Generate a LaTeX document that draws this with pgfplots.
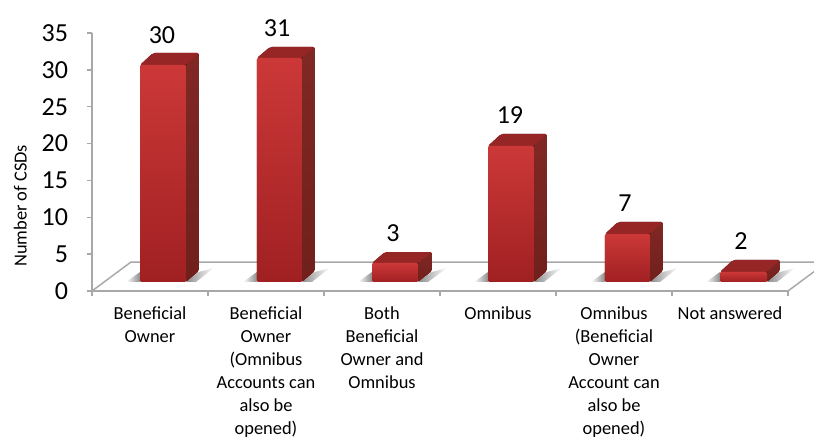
\documentclass[border=0pt]{standalone}
\usepackage{fontspec}
\setmainfont{Carlito}
\usepackage{pgfplots}
\usepackage{pgfplotstable}
\pgfplotsset{compat=1.18}

\definecolor{axisgray}{RGB}{168,168,168}
\definecolor{fronttop}{RGB}{204,56,56}
\definecolor{frontbot}{RGB}{160,32,34}
\definecolor{sidetop}{RGB}{128,40,36}
\definecolor{sidebot}{RGB}{112,32,28}
\definecolor{topface}{RGB}{150,38,38}
\definecolor{shadowgray}{RGB}{140,140,140}

% value labels: x, y of the label, value shown
\pgfplotstableread{
x     y      v
0.603 34.73  30
1.595 35.68  31
2.595 7.87   3
3.603 23.88  19
4.595 11.94  7
5.595 6.78   2
}\labeltable

% #1 left, #2 right, #3 back x; #4 value height of the front top, #5 of the back top
\newcommand{\threedbar}[5]{
  \addplot[draw=none, fill=sidebot, rounded corners=1.5pt]
    coordinates {(#1,1.221) (#2,1.221) (#3,2.713) (#3,#5) (#1+0.112,#5) (#1,#4)} -- cycle;
  \addplot[draw=none, shade, top color=sidetop, bottom color=sidebot, rounded corners=1.5pt]
    coordinates {(#2,1.221) (#3,2.713) (#3,#5) (#2,#4)} -- cycle;
  \addplot[draw=none, fill=topface, rounded corners=1.5pt]
    coordinates {(#1,#4) (#2,#4) (#3,#5) (#1+0.112,#5)} -- cycle;
  \addplot[draw=none, shade, top color=fronttop, bottom color=frontbot, rounded corners=1pt]
    coordinates {(#1,1.221) (#2,1.221) (#2,#4) (#1,#4)} -- cycle;
}
% #1 left tip, #2 bar left, #3 bar right, #4 bar back x, #5 right tip, #6 right tip at the front
\newcommand{\barshadow}[6]{
  \addplot[draw=none, shade, left color=white, right color=shadowgray]
    coordinates {(#1,1.221) (#2,2.58) (#2,1.221)} -- cycle;
  \addplot[draw=none, shade, left color=shadowgray, right color=white]
    coordinates {(#3,1.221) (#4,2.58) (#5,3.12) (#6,1.221)} -- cycle;
}

\begin{document}
\begin{tikzpicture}[x=0.75pt,y=0.75pt]
\path[clip, use as bounding box] (0,0) rectangle (814,438);
\begin{axis}[
    at={(69pt,110.25pt)},
    anchor=south west,
    scale only axis,
    width=522pt,
    height=193.5pt,
    xmin=0, xmax=6,
    ymin=0, ymax=35,
    clip=false,
    axis y line=left,
    axis x line=bottom,
    axis line style={-, draw=axisgray, line width=1.1pt},
    tick align=outside,
    major tick length=3.75pt,
    minor tick length=3.75pt,
    ytick={0,5,...,35},
    ytick style={draw=axisgray, line width=1pt},
    xtick={0.5,1.5,2.5,3.5,4.5,5.5},
    xtick style={draw=none},
    minor xtick={0,1,2,3,4,5,6},
    minor x tick style={draw=axisgray, line width=1pt},
    xticklabels={
      {Beneficial\\Owner},
      {Beneficial\\Owner\\(Omnibus\\Accounts can\\also be\\opened)},
      {Both\\Beneficial\\Owner and\\Omnibus},
      {Omnibus},
      {Omnibus\\(Beneficial\\Owner\\Account can\\also be\\opened)},
      {Not answered}},
    /pgf/number format/assume math mode=true,
    x tick label style={align=center, anchor=north, font=\fontsize{13.8}{17.25}\selectfont, yshift=-4.25pt},
    y tick label style={font=\fontsize{19.5}{20}\selectfont, xshift=-10.75pt},
    ylabel={Number of CSDs},
    ylabel style={at={(axis description cs:-0.103,0.33)}, anchor=center, font=\fontsize{13.8}{16}\selectfont},
]
% floor of the chart
\addplot[draw=axisgray, line width=1.1pt] coordinates {(0,0) (0.336,3.93) (6.336,3.93) (6,0)};

\barshadow{0.293}{0.414}{0.810}{0.922}{1.051}{0.896}
\barshadow{1.301}{1.422}{1.810}{1.922}{2.051}{1.896}
\barshadow{2.293}{2.414}{2.810}{2.931}{3.060}{2.896}
\barshadow{3.293}{3.414}{3.810}{3.922}{4.051}{3.896}
\barshadow{4.301}{4.422}{4.810}{4.922}{5.051}{4.896}
\barshadow{5.293}{5.414}{5.819}{5.931}{6.060}{5.905}

\threedbar{0.414}{0.810}{0.922}{30.66}{32.29}
\threedbar{1.422}{1.810}{1.922}{31.61}{33.10}
\threedbar{2.414}{2.810}{2.931}{3.80}{5.29}
\threedbar{3.414}{3.810}{3.922}{19.67}{21.30}
\threedbar{4.422}{4.810}{4.922}{7.73}{9.36}
\threedbar{5.414}{5.819}{5.931}{2.58}{4.21}

\addplot[draw=none, mark=none, point meta=explicit,
    nodes near coords,
    every node near coord/.style={anchor=center, inner sep=0pt, font=\fontsize{19.5}{20}\selectfont}]
    table[x=x, y=y, meta=v] {\labeltable};
\end{axis}
\end{tikzpicture}
\end{document}
